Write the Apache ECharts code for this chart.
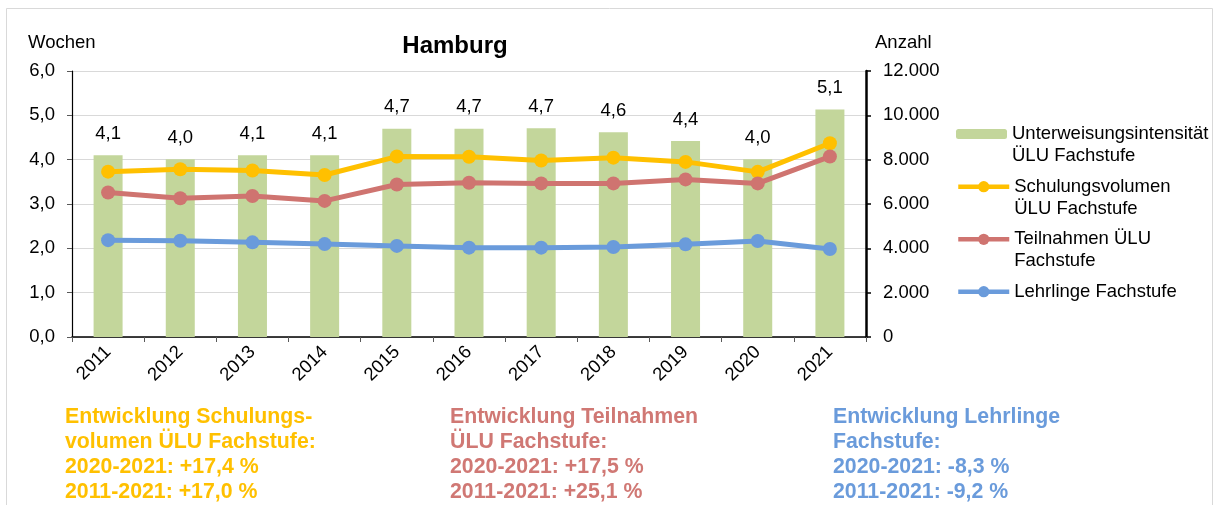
<!DOCTYPE html>
<html>
<head>
<meta charset="utf-8">
<script src="https://cdn.jsdelivr.net/npm/echarts@6/dist/echarts.min.js"></script>
<style>
html,body{margin:0;padding:0;background:#fff;}
#chart{width:1218px;height:505px;}
</style>
</head>
<body>
<div id="chart"></div>
<script>
const years = ['2011','2012','2013','2014','2015','2016','2017','2018','2019','2020','2021'];
const intensity = [4.10, 4.01, 4.10, 4.10, 4.70, 4.70, 4.71, 4.62, 4.42, 4.01, 5.13];
const schulung = [7460, 7570, 7510, 7310, 8140, 8130, 7960, 8090, 7900, 7450, 8740];
const teilnahmen = [6520, 6260, 6360, 6140, 6880, 6960, 6930, 6930, 7110, 6930, 8140];
const lehrlinge = [4370, 4340, 4270, 4190, 4110, 4030, 4030, 4060, 4180, 4330, 3970];
const seriesNames = ['Unterweisungsintensität ÜLU Fachstufe', 'Schulungsvolumen ÜLU Fachstufe', 'Teilnahmen ÜLU Fachstufe', 'Lehrlinge Fachstufe'];
const legendLabels = [['Unterweisungsintensität', 'ÜLU Fachstufe'], ['Schulungsvolumen', 'ÜLU Fachstufe'], ['Teilnahmen ÜLU', 'Fachstufe'], ['Lehrlinge Fachstufe']];
const titleText = 'Hamburg';
const leftAxisName = 'Wochen';
const rightAxisName = 'Anzahl';
const noteSchulung = ['Entwicklung Schulungs-', 'volumen ÜLU Fachstufe:', '2020-2021: +17,4 %', '2011-2021: +17,0 %'];
const noteTeilnahmen = ['Entwicklung Teilnahmen', 'ÜLU Fachstufe:', '2020-2021: +17,5 %', '2011-2021: +25,1 %'];
const noteLehrlinge = ['Entwicklung Lehrlinge', 'Fachstufe:', '2020-2021: -8,3 %', '2011-2021: -9,2 %'];

const FONT = '"Liberation Sans", Arial, sans-serif';
const colors = ['#C3D69B', '#FFC000', '#CF7470', '#6A9BDB'];
const FS = 18.5;

const chart = echarts.init(document.getElementById('chart'), null, {renderer: 'canvas'});

// symbol centre y for each legend item: 134, 186.7, 239.3, 291.7
const legendTops = [101, 153.7, 206.3, 280.7];
const legends = seriesNames.map((n, i) => ({
  data: [n],
  left: 956,
  top: legendTops[i],
  orient: 'vertical',
  padding: 0,
  itemWidth: 51,
  itemHeight: i === 0 ? 10 : 14,
  selectedMode: false,
  lineStyle: {width: 4.5},
  formatter: () => legendLabels[i].length > 1 ? ' \n' + legendLabels[i].join('\n') : legendLabels[i][0],
  textStyle: {fontFamily: FONT, fontSize: FS, color: '#000', lineHeight: 22}
}));

const lineSeries = (name, data, color) => ({
  name, type: 'line', yAxisIndex: 1, data,
  symbol: 'circle', symbolSize: 14,
  lineStyle: {color, width: 5},
  itemStyle: {color},
  z: 3
});

const note = (lines, x, color) => ({
  type: 'text', left: x, top: 405,
  style: {text: lines.join('\n'), fill: color, font: 'bold 21.3px ' + FONT, lineHeight: 24.8}
});

chart.setOption({
  animation: false,
  backgroundColor: '#fff',
  title: {
    text: titleText, left: 450, top: 29, textAlign: 'center',
    textStyle: {fontFamily: FONT, fontSize: 24, fontWeight: 'bold', color: '#000'}
  },
  legend: legends,
  grid: {left: 72, right: 352, top: 71, bottom: 168, containLabel: false},
  xAxis: {
    type: 'category', data: years, boundaryGap: true,
    axisLine: {lineStyle: {color: '#000', width: 1.5}},
    axisTick: {show: true, length: 5, lineStyle: {color: '#595959'}},
    axisLabel: {rotate: 45, margin: 12, fontFamily: FONT, fontSize: FS, color: '#000'}
  },
  yAxis: [
    {
      type: 'value', min: 0, max: 6, interval: 1, position: 'left',
      axisLine: {show: true, lineStyle: {color: '#000', width: 1.2}},
      axisTick: {show: true, length: 5, lineStyle: {color: '#595959'}},
      axisLabel: {margin: 17, fontFamily: FONT, fontSize: FS, color: '#000',
        formatter: v => v.toFixed(1).replace('.', ',')},
      splitLine: {show: true, lineStyle: {color: '#D9D9D9', width: 1}}
    },
    {
      type: 'value', min: 0, max: 12000, interval: 2000, position: 'right',
      axisLine: {show: true, lineStyle: {color: '#000', width: 2.5}},
      axisTick: {show: true, length: 5, lineStyle: {color: '#000', width: 1.5}},
      axisLabel: {margin: 17, fontFamily: FONT, fontSize: FS, color: '#000',
        formatter: v => v === 0 ? '0' : v.toLocaleString('de-DE')},
      splitLine: {show: false}
    }
  ],
  series: [
    {
      name: seriesNames[0], type: 'bar', yAxisIndex: 0, data: intensity,
      barWidth: 29, itemStyle: {color: colors[0]},
      label: {show: true, position: 'top', distance: 12, fontFamily: FONT, fontSize: FS, color: '#000',
        formatter: p => p.value.toFixed(1).replace('.', ',')},
      z: 2
    },
    lineSeries(seriesNames[1], schulung, colors[1]),
    lineSeries(seriesNames[2], teilnahmen, colors[2]),
    lineSeries(seriesNames[3], lehrlinge, colors[3])
  ],
  graphic: [
    {type: 'rect', shape: {x: 6.5, y: 8.5, width: 1206, height: 520}, style: {fill: 'none', stroke: '#D9D9D9', lineWidth: 1}, z: -10},
    {type: 'text', left: 28, top: 33, style: {text: leftAxisName, fill: '#000', font: FS + 'px ' + FONT}},
    {type: 'text', left: 875, top: 33, style: {text: rightAxisName, fill: '#000', font: FS + 'px ' + FONT}},
    note(noteSchulung, 65, '#FFC000'),
    note(noteTeilnahmen, 450, '#D07874'),
    note(noteLehrlinge, 833, '#6A9BDB')
  ]
});
</script>
</body>
</html>
